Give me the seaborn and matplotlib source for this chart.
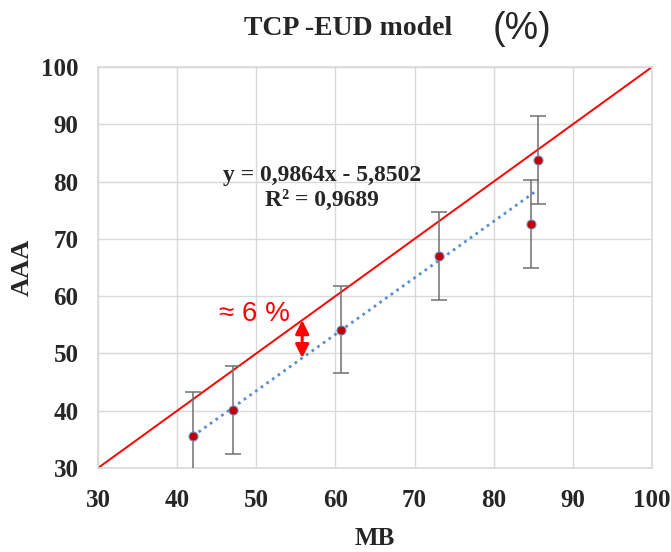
import numpy as np
import pandas as pd
import matplotlib
matplotlib.use("Agg")
import matplotlib.pyplot as plt
import seaborn as sns

mb = [42.0, 47.1, 60.7, 73.1, 84.7, 85.6]
aaa = [35.6, 40.1, 54.1, 67.0, 72.6, 83.7]
err = [7.7, 7.7, 7.6, 7.7, 7.7, 7.7]
slope = 0.9864
intercept = -5.8502
ticks = [30, 40, 50, 60, 70, 80, 90, 100]

sns.set_style("white")
serif = ["Liberation Serif", "DejaVu Serif"]
sans = ["Liberation Sans", "DejaVu Sans"]

fig = plt.figure(figsize=(6.71, 5.52), dpi=100)
ax = fig.add_axes([98/671, 1-468/552, (652-98)/671, (468-67)/552])

df = pd.DataFrame({"MB": mb, "AAA": aaa})

# identity line
ident = pd.DataFrame({"x": [ticks[0], ticks[-1]], "y": [ticks[0], ticks[-1]]})
sns.lineplot(data=ident, x="x", y="y", ax=ax, color="#ff0000", lw=1.4, zorder=2)

# trend line
tx = np.array([min(mb), max(mb)])
trend = pd.DataFrame({"x": tx, "y": slope*tx + intercept})
sns.lineplot(data=trend, x="x", y="y", ax=ax, color="#5b8fd0", lw=2, ls=(0, (1, 1.5)), zorder=3)

ax.errorbar(mb, aaa, yerr=err, fmt="none", ecolor="#707070", elinewidth=1.1, capsize=5.5, capthick=1.1, zorder=4)
sns.scatterplot(data=df, x="MB", y="AAA", ax=ax, color="#c00000", edgecolor="#7090c8", s=42, linewidth=0.8, zorder=5)

# arrow
xa = 55.8
ax.annotate("", xy=(xa, slope*xa + intercept), xytext=(xa, xa),
            arrowprops=dict(arrowstyle="<|-|>", color="#ff0000", lw=2.2, mutation_scale=20, shrinkA=0, shrinkB=0), zorder=6)
ax.text(54.3, 56.9, "≈ 6 %", color="#ff0000", fontsize=20, family=sans, ha="right", va="center")

ax.text(0.405, 0.698, "y = 0,9864x - 5,8502\nR² = 0,9689", transform=ax.transAxes, ha="center", va="center",
        fontsize=17, fontweight="bold", family=serif, linespacing=1.2)

ax.set_xlim(30, 100)
ax.set_ylim(30, 100)
ax.set_xticks(ticks)
ax.set_yticks(ticks)
ax.grid(True, color="#d9d9d9", lw=1)
for s in ax.spines.values():
    s.set_color("#d9d9d9")
    s.set_linewidth(1.2)
for lab in ax.get_xticklabels() + ax.get_yticklabels():
    lab.set_family(serif)
    lab.set_fontweight("bold")
    lab.set_fontsize(18)
ax.tick_params(axis="x", length=0, pad=15)
ax.tick_params(axis="y", length=0, pad=14)
ax.set_xlabel("MB", family=serif, fontweight="bold", fontsize=18, labelpad=11)
ax.set_ylabel("AAA", family=serif, fontweight="bold", fontsize=19, labelpad=5)

fig.text(0.519, 0.948, "TCP -EUD model", family=serif, fontweight="bold", fontsize=20, ha="center", va="center")
fig.text(0.778, 0.948, "(%)", family=sans, fontsize=27, ha="center", va="center")

fig.savefig("out.png", dpi=100)
